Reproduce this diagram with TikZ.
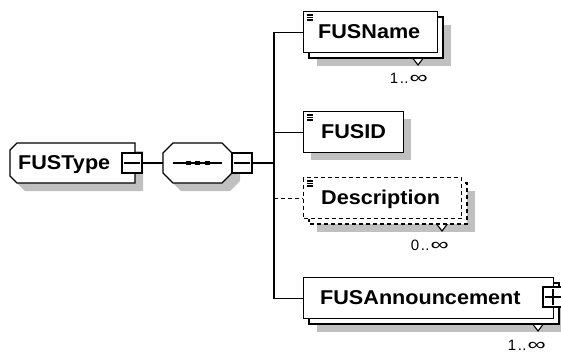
\documentclass[tikz,border=0pt]{standalone}
\usepackage{fontspec}
\usepackage{graphicx}
\setmainfont{Liberation Sans}
\newfontfamily\elfont{Liberation Sans}[FakeStretch=1.08]
\definecolor{shadowgrey}{RGB}{192,192,192}

\tikzset{
  outline/.style={draw=black, line width=1.3pt, line join=miter},
  conn/.style={draw=black, line width=1.3pt},
  optline/.style={dash pattern=on 4pt off 3pt},
  shadowfill/.style={fill=shadowgrey, draw=none},
  elbox/.style={outline, fill=white, rectangle, inner sep=0pt,
                minimum height=41pt, anchor=north west},
  expbox/.style={outline, fill=white, rectangle, inner sep=0pt,
                 minimum size=20pt},
  ename/.style={font=\elfont\bfseries\fontsize{20}{24}\selectfont,
                anchor=base west, inner sep=0pt},
  occ/.style={font=\fontsize{15}{18}\selectfont, anchor=base east, inner sep=0pt},
  occtri/.style={fill=white, draw=black, line width=1.1pt},
  icon/.style={draw=black, line width=1.1pt},
}

% occurrence label 1..oo / 0..oo
\newcommand\occtext[1]{#1\kern1.5pt.\kern0.5pt.\kern1pt\scalebox{1.7}[1.15]{∞}}

\begin{document}
\begin{tikzpicture}[x=1pt, y=-1pt]
\useasboundingbox (0,0) rectangle (561,354);

% ---------- complex type FUSType ----------
\fill[shadowfill, shift={(8,8)}]
  (17,143) -- (135,143) -- (135,183) -- (17,183) -- (10,176) -- (10,150) -- cycle;
\draw[outline, fill=white]
  (17,143) -- (135,143) -- (135,183) -- (17,183) -- (10,176) -- (10,150) -- cycle;
\node[ename] (fustypeText) at (18,169.5) {FUSType};
\node[expbox] (typeMinus) at (132,163) {};
\draw[icon] ([xshift=3pt]typeMinus.west) -- ([xshift=-3pt]typeMinus.east);

% ---------- sequence compositor ----------
\fill[shadowfill, shift={(8,8)}]
  (173,143) -- (222,143) -- (232,153) -- (232,173) -- (222,183) -- (173,183)
  -- (163,173) -- (163,153) -- cycle;
\draw[outline, fill=white]
  (173,143) -- (222,143) -- (232,153) -- (232,173) -- (222,183) -- (173,183)
  -- (163,173) -- (163,153) -- cycle;
\node[inner sep=0pt, minimum width=69pt, minimum height=40pt] (seq) at (197.5,163) {};
\draw[icon] (173,163) -- (222,163);
\foreach \dx in {188,197.5,207}
  \fill[black] (\dx-2.5,161) rectangle (\dx+2.5,165);
\node[expbox] (seqMinus) at (242,163) {};
\draw[icon] ([xshift=3pt]seqMinus.west) -- ([xshift=-3pt]seqMinus.east);

% ---------- element FUSName (1..oo) ----------
\fill[shadowfill] (317,25) rectangle (451,66);
\draw[occtri] (408,52) -- (418,65) -- (428,52);
\draw[outline, fill=white] (309,17) rectangle (443,58);
\node[elbox, minimum width=134pt] (fusname) at (303,11) {};
\draw[icon] (307,15) -- (313,15) (307,17.5) -- (313,17.5) (307,20) -- (313,20);
\node[ename] (fusnameText) at (318,38) {FUSName};
\node[occ] (fusnameOcc) at (428,83) {\occtext{1}};

% ---------- element FUSID ----------
\fill[shadowfill] (311,119) rectangle (411,160);
\node[elbox, minimum width=100pt] (fusid) at (303,111) {};
\draw[icon] (307,115) -- (313,115) (307,117.5) -- (313,117.5) (307,120) -- (313,120);
\node[ename] (fusidText) at (321,138) {FUSID};

% ---------- optional element Description (0..oo) ----------
\fill[shadowfill] (317,191) rectangle (475,232);
\draw[occtri] (432,218) -- (442,231) -- (452,218);
\draw[outline, optline, fill=white] (309,183) rectangle (467,224);
\node[elbox, optline, minimum width=158pt] (desc) at (303,177) {};
\draw[icon] (307,181) -- (313,181) (307,183.5) -- (313,183.5) (307,186) -- (313,186);
\node[ename] (descText) at (321,204) {Description};
\node[occ] (descOcc) at (449,250) {\occtext{0}};

% ---------- element FUSAnnouncement (1..oo) ----------
\fill[shadowfill] (317,291) rectangle (567,332);
\draw[occtri] (528,318) -- (538,331) -- (548,318);
\draw[outline, fill=white] (309,283) rectangle (559,324);
\node[elbox, minimum width=250pt] (fusann) at (303,277) {};
\node[ename] (fusannText) at (320,304) {FUSAnnouncement};
\node[expbox] (annPlus) at (553,297) {};
\draw[icon] ([xshift=3pt]annPlus.west) -- ([xshift=-3pt]annPlus.east)
            ([yshift=3pt]annPlus.south) -- ([yshift=-3pt]annPlus.north);
\node[occ] (fusannOcc) at (546,350.5) {\occtext{1}};

% ---------- connectors ----------
\coordinate (bus) at (274,163);
\draw[conn] (typeMinus.east) -- (seq.west);
\draw[conn] (seqMinus.east) -- (bus);
\draw[conn] (bus) |- (fusname.west);
\draw[conn] (bus) |- (fusann.west);
\draw[conn] (fusid.west -| bus) -- (fusid.west);
\draw[conn, optline] (desc.west -| bus) -- (desc.west);
\end{tikzpicture}
\end{document}
